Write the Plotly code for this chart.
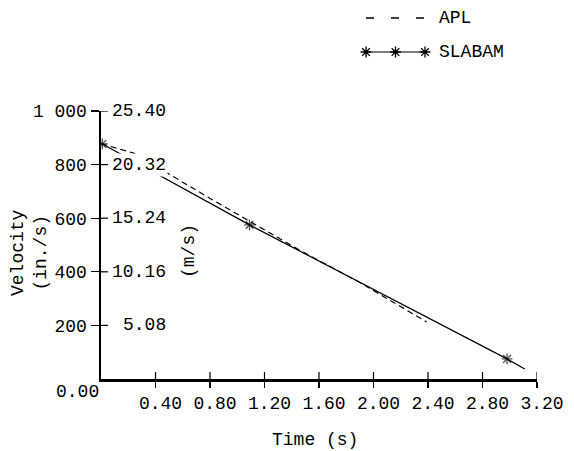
import plotly.graph_objects as go

# ---- data ----
apl_t = [0.0, 0.24, 0.82, 1.46, 1.90, 2.39]
apl_v = [878, 843, 668, 480, 360, 213]

slabam_t = [0.01, 1.09, 2.98, 3.11]
slabam_v = [877, 575, 75, 37]
slabam_marker = [9, 9, 9, 0]

x_ticks = [0.4, 0.8, 1.2, 1.6, 2.0, 2.4, 2.8, 3.2]
x_ticktext = ["0.40", "0.80", "1.20", "1.60", "2.00", "2.40", "2.80", "3.20"]
y_ticks = [200, 400, 600, 800, 1000]
y_ticktext = ["200", "400", "600", "800", "1 000"]
ms_ticktext = ["5.08", "10.16", "15.24", "20.32", "25.40"]

FONT = "Liberation Mono"
FS = 18
W, H = 574, 451
ML, MR, MT, MB = 101, 37, 10, 72
PH = H - MT - MB
PW = W - ML - MR


def py(px):  # pixel row -> paper y
    return (H - MB - px) / PH


def pxx(px):  # pixel col -> paper x
    return (px - ML) / PW


main_dom = [0, py(111)]

fig = go.Figure()
fig.add_trace(go.Scatter(x=apl_t, y=apl_v, mode="lines",
                         line=dict(color="black", width=1.2, dash="6px,4px"),
                         hoverinfo="skip"))
fig.add_trace(go.Scatter(x=slabam_t, y=slabam_v, mode="lines+markers",
                         line=dict(color="black", width=1.2),
                         marker=dict(symbol="asterisk-open", size=slabam_marker,
                                     color="black", line=dict(color="black", width=1.3)),
                         hoverinfo="skip"))

# legend keys in their own small axes
fig.add_trace(go.Scatter(x=[0, 1], y=[1, 1], xaxis="x3", yaxis="y3", mode="lines",
                         line=dict(color="black", width=1.6, dash="8px,17px"),
                         hoverinfo="skip", cliponaxis=False))
fig.add_trace(go.Scatter(x=[0, 0.5, 1], y=[0, 0, 0], xaxis="x3", yaxis="y3",
                         mode="lines+markers", cliponaxis=False,
                         line=dict(color="black", width=1.2),
                         marker=dict(symbol="asterisk-open", size=9, color="black",
                                     line=dict(color="black", width=1.3)),
                         hoverinfo="skip"))

axis_font = dict(family=FONT, size=FS, color="black")
fig.update_layout(
    width=W, height=H,
    margin=dict(l=ML, r=MR, t=MT, b=MB, pad=0, autoexpand=False),
    paper_bgcolor="white", plot_bgcolor="white",
    showlegend=False,
    font=axis_font,
    xaxis=dict(range=[0, 3.2], domain=[0, 1], anchor="y", automargin=False,
               tickvals=x_ticks, ticktext=x_ticktext,
               ticks="outside", ticklen=6, tickwidth=1.2, tickcolor="black",
               showline=True, linecolor="black", linewidth=2.5,
               showgrid=False, zeroline=False, tickfont=axis_font,
               ticklabelshift=5, ticklabelstandoff=0),
    yaxis=dict(range=[0, 1000], domain=main_dom, anchor="x", automargin=False,
               tickvals=y_ticks, ticktext=y_ticktext,
               ticks="outside", ticklen=8, tickwidth=1.2, tickcolor="black",
               showline=True, linecolor="black", linewidth=2.5,
               showgrid=False, zeroline=False, tickfont=axis_font,
               ticklabelstandoff=0),
    xaxis3=dict(range=[-0.1017, 1.1017], domain=[pxx(360), pxx(431)], anchor="y3",
                visible=False, automargin=False),
    yaxis3=dict(range=[-0.235, 1.235], domain=[py(60), py(10)], anchor="x3",
                visible=False, automargin=False),
)

# inner halves of the crossing ticks
shapes = []
for t in x_ticks:
    shapes.append(dict(type="line", xref="x", yref="y", x0=t, x1=t,
                       ysizemode="pixel", yanchor=0, y0=0, y1=7,
                       line=dict(color="black", width=1.2)))
for v in y_ticks:
    shapes.append(dict(type="line", xref="x", yref="y", y0=v, y1=v,
                       xsizemode="pixel", xanchor=0, x0=0, x1=7,
                       line=dict(color="black", width=1.2)))
fig.update_layout(shapes=shapes)

ann = []
# m/s tick labels with white background (they cover the lines)
for v, t in zip(y_ticks, ms_ticktext):
    ann.append(dict(x=0, y=v, xref="x", yref="y", text=t, showarrow=False,
                    xanchor="right", yanchor="middle", xshift=67,
                    bgcolor="white", borderpad=1, font=axis_font))
ann.append(dict(x=0, y=0, xref="x", yref="y", text="0.00", showarrow=False,
                xanchor="right", yanchor="top", xshift=0, yshift=-1, font=axis_font))
ann.append(dict(x=0.5, y=py(440), xref="paper", yref="paper", text="Time (s)",
                showarrow=False, xanchor="center", yanchor="middle", xshift=-4,
                font=axis_font))
ann.append(dict(x=pxx(30), y=py(253), xref="paper", yref="paper",
                text="Velocity<br>(in./s)", showarrow=False, textangle=-90,
                xanchor="center", yanchor="middle", font=axis_font))
ann.append(dict(x=pxx(189), y=py(251), xref="paper", yref="paper",
                text="(m/s)", showarrow=False, textangle=-90,
                xanchor="center", yanchor="middle", font=axis_font))
ann.append(dict(x=pxx(437), y=py(18), xref="paper", yref="paper", text="APL",
                showarrow=False, xanchor="left", yanchor="middle", font=axis_font))
ann.append(dict(x=pxx(437), y=py(52), xref="paper", yref="paper", text="SLABAM",
                showarrow=False, xanchor="left", yanchor="middle", font=axis_font))
fig.update_layout(annotations=ann)

fig.write_html("out.html",
               config={"displayModeBar": False, "staticPlot": True},
               post_script="document.body.style.margin='0';"
                           "document.body.style.overflow='hidden';")
